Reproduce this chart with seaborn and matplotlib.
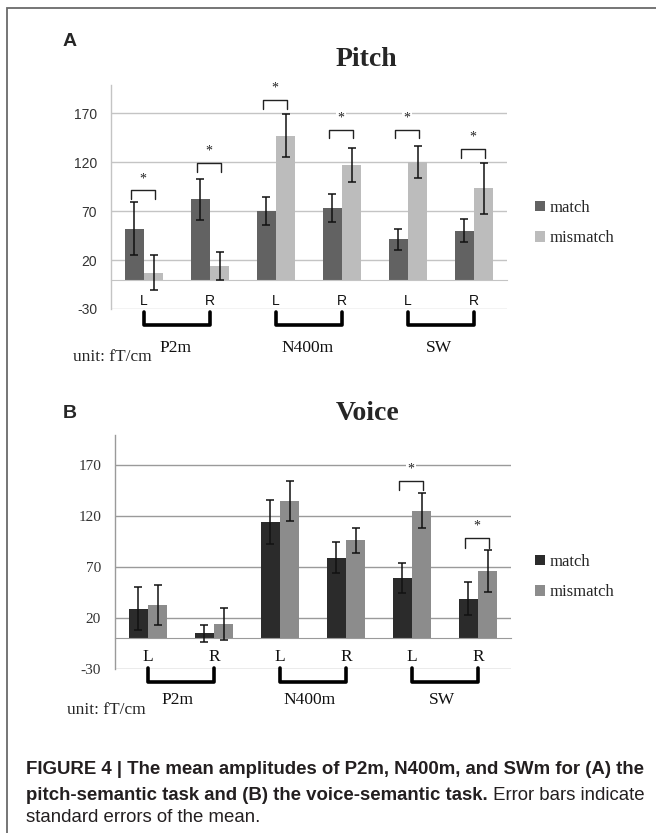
import numpy as np
import pandas as pd
import seaborn as sns
import matplotlib.pyplot as plt
from matplotlib.patches import Patch, Rectangle
from matplotlib import font_manager

# ---- data (fT/cm) ----
cats = ['P2m-L', 'P2m-R', 'N400m-L', 'N400m-R', 'SW-L', 'SW-R']
sides = ['L', 'R', 'L', 'R', 'L', 'R']
components = ['P2m', 'N400m', 'SW']
conditions = ['match', 'mismatch']
yticks = [-30, 20, 70, 120, 170]

# A: pitch-semantic task
pitch_match = [52, 82, 70, 73, 41, 50]
pitch_match_se = [27, 21, 14, 14, 11, 11.5]
pitch_mismatch = [7, 14, 147, 117, 120, 93]
pitch_mismatch_se = [18, 14, 22, 17, 16.5, 26]
pitch_sig = [0, 1, 2, 3, 4, 5]
pitch_sig_height = [91, 119, 183, 153, 153, 133]

# B: voice-semantic task
voice_match = [29, 5, 114, 79, 59, 39]
voice_match_se = [21, 8.5, 21.5, 15, 14.5, 16.5]
voice_mismatch = [33, 14, 135, 96, 125, 66]
voice_mismatch_se = [19.5, 15.5, 19.5, 12.5, 17, 20.5]
voice_sig = [4, 5]
voice_sig_height = [154, 98]

caption_1 = "FIGURE 4 | The mean amplitudes of P2m, N400m, and SWm for (A) the"
caption_2b = "pitch-semantic task and (B) the voice-semantic task."
caption_2r = " Error bars indicate"
caption_3 = "standard errors of the mean."

# ---- style ----
sns.set_style('white')
SERIF = 'Liberation Serif'
SANS = 'Liberation Sans'
installed = {f.name for f in font_manager.fontManager.ttflist}
NARROW = 'Liberation Sans Narrow' if 'Liberation Sans Narrow' in installed else SANS
plt.rcParams['font.family'] = [SANS, 'DejaVu Sans']

W, H = 656, 833
fig = plt.figure(figsize=(W / 100, H / 100), dpi=100)


def fx(px):
    return px / W


def fy(py):
    return 1 - py / H


# frame around the figure (cut off on the right / bottom)
fig.patches.append(Rectangle((fx(7), -0.1), 1.2, fy(8) + 0.1, transform=fig.transFigure,
                             fill=False, edgecolor='#6a6a6a', linewidth=1.3))


def draw_panel(ax, match, match_se, mismatch, mismatch_se, sig, sig_h, colors,
               tick_font, tick_size, side_font, side_size, side_y, grid_color,
               leg_y, group_y, group_x, legend_y):
    df = pd.DataFrame({
        'cat': cats * 2,
        'cond': [conditions[0]] * len(cats) + [conditions[1]] * len(cats),
        'amp': match + mismatch,
    })
    sns.barplot(data=df, x='cat', y='amp', hue='cond', order=cats, hue_order=conditions,
                palette=colors, width=0.59, errorbar=None, saturation=1, linewidth=0,
                legend=False, ax=ax)
    bars = list(ax.containers)[:2]
    for cont, se in zip(bars, [match_se, mismatch_se]):
        xs = [p.get_x() + p.get_width() / 2 for p in cont.patches]
        ys = [p.get_height() for p in cont.patches]
        ax.errorbar(xs, ys, yerr=se, fmt='none', ecolor='#111111', elinewidth=1.1,
                    capsize=3, capthick=1.1, zorder=4)

    ax.set_xlim(-0.5, len(cats) - 0.5)
    ax.set_ylim(-30, 199)
    ax.set_yticks(yticks)
    ax.set_yticklabels([str(t) for t in yticks], family=tick_font, fontsize=tick_size,
                       color='#333333')
    ax.set_xticks(np.arange(-0.5, len(cats), 1))
    ax.set_xticklabels([])
    ax.set_xlabel('')
    ax.set_ylabel('')
    ax.yaxis.grid(True, color=grid_color, linewidth=1)
    ax.set_axisbelow(True)
    ax.tick_params(axis='y', length=0, pad=10)
    ax.tick_params(axis='x', length=5, direction='out', color=grid_color, width=1)
    for s in ['top', 'right']:
        ax.spines[s].set_visible(False)
    ax.spines['bottom'].set_position(('data', 0))
    ax.spines['bottom'].set_color(grid_color)
    ax.spines['left'].set_color(grid_color)
    ax.spines['left'].set_linewidth(1)

    # L / R labels under the zero line
    for i, s in enumerate(sides):
        ax.text(i, side_y, s, ha='center', va='center', family=side_font,
                fontsize=side_size, color='#111111')

    # significance brackets
    for pos, h in zip(sig, sig_h):
        x0, x1 = pos - 0.2, pos + 0.17
        ax.plot([x0, x0, x1, x1], [h - 9, h, h, h - 9], color='#222222', lw=1,
                clip_on=False, zorder=5)
        ax.text((x0 + x1) / 2, h + 12, '*', ha='center', va='center', family=SERIF,
                fontsize=10, color='#222222', zorder=5,
                bbox=dict(facecolor='white', edgecolor='none', pad=1))

    # component brackets below the axis
    for k, comp in enumerate(components):
        ax.plot([2 * k, 2 * k, 2 * k + 1, 2 * k + 1],
                [leg_y[0], leg_y[1], leg_y[1], leg_y[0]], color='black', lw=2.6,
                solid_joinstyle='round', solid_capstyle='round', clip_on=False)
        ax.text(2 * k + group_x, group_y, comp, ha='center', va='center', family=SERIF,
                fontsize=12.5, color='#111111')

    handles = [Patch(facecolor=c, edgecolor='none') for c in colors]
    ax.legend(handles, conditions, loc='center left', bbox_to_anchor=(fx(535), fy(legend_y)),
              bbox_transform=fig.transFigure, frameon=False, handlelength=0.6,
              handleheight=0.6, handletextpad=0.25, labelspacing=0.85, borderpad=0,
              borderaxespad=0, prop={'family': SERIF, 'size': 12})


# ---- panel A ----
axA = fig.add_axes([fx(111), fy(309), 396 / W, (309 - 84.6) / H])
draw_panel(axA, pitch_match, pitch_match_se, pitch_mismatch, pitch_mismatch_se,
           pitch_sig, pitch_sig_height, ['#626262', '#bcbcbc'],
           SANS, 10, NARROW, 10, -22, '#c4c4c4', (-33, -46), -70, 0.47, 223)
fig.text(fx(63), fy(42), 'A', ha='left', va='center', fontsize=14, fontweight='bold',
         family=SANS)
fig.text(fx(366), fy(60), 'Pitch', ha='center', va='center', fontsize=20,
         fontweight='bold', family=SERIF)
fig.text(fx(73), fy(357), 'unit: fT/cm', ha='left', va='center', fontsize=12.5,
         family=SERIF)

# ---- panel B ----
axB = fig.add_axes([fx(115), fy(669), 396 / W, (669 - 435.3) / H])
draw_panel(axB, voice_match, voice_match_se, voice_mismatch, voice_mismatch_se,
           voice_sig, voice_sig_height, ['#2b2b2b', '#8c8c8c'],
           SERIF, 11, SERIF, 12.5, -18, '#9a9a9a', (-29, -43), -60, 0.45, 577)
fig.text(fx(63), fy(413), 'B', ha='left', va='center', fontsize=14, fontweight='bold',
         family=SANS)
fig.text(fx(368), fy(413), 'Voice', ha='center', va='center', fontsize=20,
         fontweight='bold', family=SERIF)
fig.text(fx(67), fy(710), 'unit: fT/cm', ha='left', va='center', fontsize=12.5,
         family=SERIF)

# ---- caption ----
cap_color = '#231f20'
cap_size = 13.4
fig.text(fx(26), fy(770), caption_1, ha='left', va='center', fontsize=cap_size,
         fontweight='bold', family=NARROW, color=cap_color)
t2 = fig.text(fx(26), fy(795), caption_2b, ha='left', va='center', fontsize=cap_size,
              fontweight='bold', family=NARROW, color=cap_color)
fig.canvas.draw()
bb = t2.get_window_extent()
fig.text(bb.x1 / W, fy(795), caption_2r, ha='left', va='center', fontsize=cap_size,
         family=NARROW, color=cap_color)
fig.text(fx(26), fy(818), caption_3, ha='left', va='center', fontsize=cap_size,
         family=NARROW, color=cap_color)

fig.savefig('out.png', dpi=100)
